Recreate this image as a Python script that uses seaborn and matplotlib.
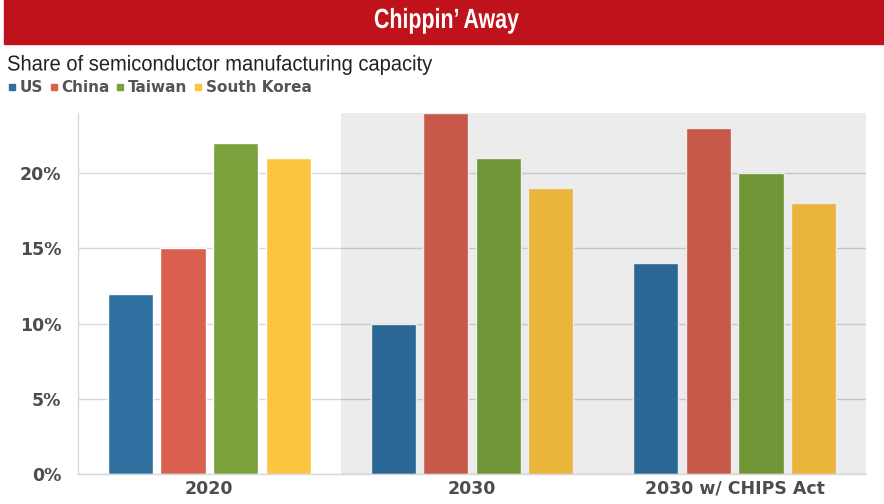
import matplotlib
matplotlib.use("Agg")
import matplotlib.pyplot as plt
from matplotlib.lines import Line2D
from matplotlib.patches import Rectangle
from matplotlib.patheffects import AbstractPathEffect
from matplotlib.transforms import Affine2D
import seaborn as sns
import pandas as pd

years = ["2020", "2030", "2030 w/ CHIPS Act"]
countries = ["US", "China", "Taiwan", "South Korea"]
us = [12, 10, 14]
china = [15, 24, 23]
taiwan = [22, 21, 20]
south_korea = [21, 19, 18]
colors = ["#2f70a0", "#d9604f", "#7aa23c", "#fcc43f"]
yticks = [0, 5, 10, 15, 20]
ytick_labels = ["0%", "5%", "10%", "15%", "20%"]

rows = []
for c, vals in zip(countries, [us, china, taiwan, south_korea]):
    for y, v in zip(years, vals):
        rows.append({"year": y, "country": c, "value": v})
df = pd.DataFrame(rows)


class HScale(AbstractPathEffect):
    """Horizontally condense glyph outlines (for a narrow typeface look)."""
    def __init__(self, sx, about="left"):
        super().__init__()
        self.sx = sx
        self.about = about

    def draw_path(self, renderer, gc, tpath, affine, rgbFace=None):
        ext = tpath.get_extents()
        cx = ext.x0 if self.about == "left" else (ext.x0 + ext.x1) / 2
        t = Affine2D().translate(-cx, 0).scale(self.sx, 1).translate(cx, 0) + affine
        renderer.draw_path(gc, tpath, t, rgbFace)


sns.set_theme(style="white")
W, H = 884, 504
fig = plt.figure(figsize=(W / 100, H / 100), dpi=100)
ax = fig.add_axes([78 / W, (H - 474) / H, (866 - 78) / W, (474 - 113) / H])

sns.barplot(data=df, x="year", y="value", hue="country", order=years,
            hue_order=countries, palette=colors, saturation=1, width=0.8,
            gap=0.14, legend=False, ax=ax, errorbar=None, zorder=2)

ax.set_xlim(-0.5, 2.5)
ax.set_ylim(0, 24)
ax.set_yticks(yticks)
ax.set_yticklabels(ytick_labels)
ax.set_xlabel("")
ax.set_ylabel("")
ax.yaxis.grid(True, color="#d8d8d8", lw=1, zorder=0)
ax.set_axisbelow(True)
ax.axvspan(0.5, 2.5, color="black", alpha=0.075, lw=0, zorder=5)

for s in ["top", "right"]:
    ax.spines[s].set_visible(False)
for s in ["left", "bottom"]:
    ax.spines[s].set_color("#d8d8d8")
    ax.spines[s].set_linewidth(1)

tick_font = ["DejaVu Sans"]
ax.tick_params(axis="y", length=0, pad=12, labelsize=12.5, labelcolor="#4d4d4d")
ax.tick_params(axis="x", length=4, color="#d8d8d8", pad=0, labelsize=12.5,
               labelcolor="#4d4d4d", direction="out")
for lbl in ax.get_yticklabels() + ax.get_xticklabels():
    lbl.set_family(tick_font)
    lbl.set_fontweight("bold")

# Title bar
fig.patches.append(Rectangle((4 / W, 1 - 44 / H), 1 - 4 / W, 44 / H,
                             transform=fig.transFigure, color="#c0121a", zorder=0))
cond = ["Liberation Sans", "DejaVu Sans"]
fig.text(446 / W, 1 - 21 / H, "Chippin\u2019 Away", ha="center", va="center",
         color="white", fontsize=20, fontweight="bold", family=cond,
         path_effects=[HScale(0.77, "center")])
fig.text(7 / W, 1 - 65 / H, "Share of semiconductor manufacturing capacity",
         ha="left", va="center", color="#222222", fontsize=15.5, family=cond,
         path_effects=[HScale(0.935, "left")])

handles = [Line2D([0], [0], marker="s", linestyle="none", markersize=5,
                  markerfacecolor=c, markeredgecolor=c) for c in colors]
leg = fig.legend(handles, countries, loc="center left",
                 bbox_to_anchor=(9 / W, 1 - 88 / H), ncol=4, frameon=False,
                 handlelength=0.4, handletextpad=0.3, columnspacing=0.5,
                 borderaxespad=0, borderpad=0,
                 prop={"family": tick_font, "size": 11, "weight": "bold"})
for t in leg.get_texts():
    t.set_color("#555555")

fig.savefig("out.png", dpi=100)
